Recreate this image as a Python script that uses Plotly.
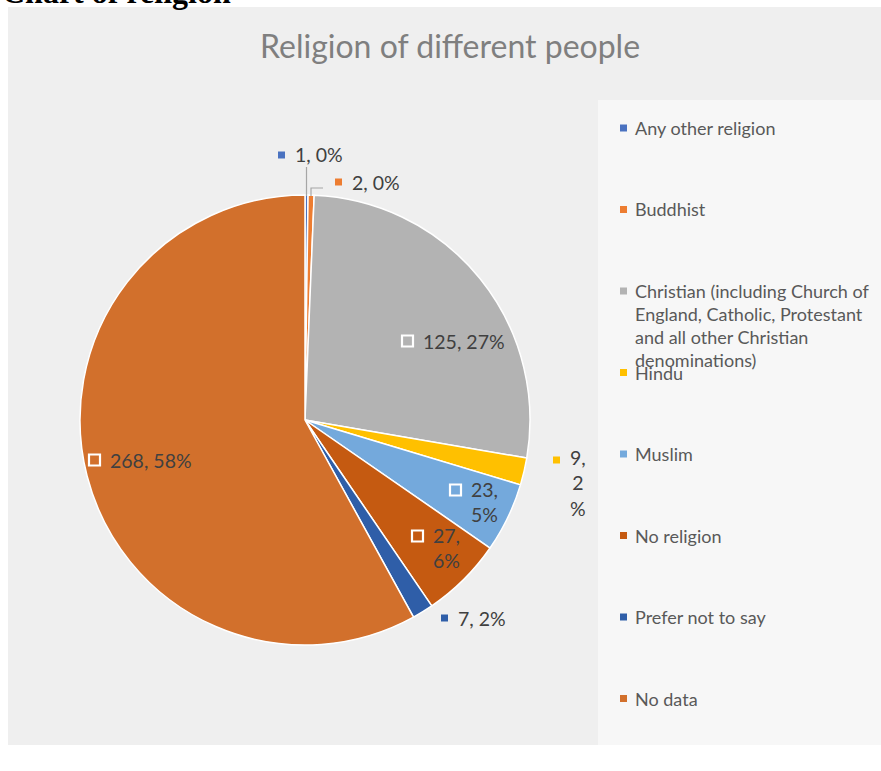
import plotly.graph_objects as go

# ---------------- data ----------------
categories = [
    "Any other religion",
    "Buddhist",
    "Christian (including Church of England, Catholic, Protestant and all other Christian denominations)",
    "Hindu",
    "Muslim",
    "No religion",
    "Prefer not to say",
    "No data",
]
values = [1, 2, 125, 9, 23, 27, 7, 268]
legend_lines = [
    ["Any other religion"],
    ["Buddhist"],
    ["Christian (including Church of", "England, Catholic, Protestant", "and all other Christian", "denominations)"],
    ["Hindu"],
    ["Muslim"],
    ["No religion"],
    ["Prefer not to say"],
    ["No data"],
]
title_text = "Religion of different people"
page_heading = "Chart of religion"

# ---------------- style ----------------
colors = ["#4a72c0", "#ed7d31", "#b3b3b3", "#ffc000", "#74a9dc", "#c55a11", "#2f5ea8", "#d2702c"]
W, H = 881, 771
FONT = "Lato"


def px(x):
    return x / W


def py(y):
    return 1 - y / H


total = sum(values)
pct = [int(v / total * 100 + 0.5) for v in values]

# label placement (pixel), wrap mode, inside flag
label_pos = [
    (293, 155, "one", False),
    (350, 182, "one", False),
    (421, 341, "one", True),
    (568, 483, "char", False),
    (469, 502, "two", True),
    (431, 548, "two", True),
    (456, 618, "one", False),
    (108, 460, "one", True),
]

cx, cy, r = 305, 420, 225

fig = go.Figure()
fig.add_trace(go.Pie(
    labels=categories,
    values=values,
    sort=False,
    direction="clockwise",
    rotation=0,
    marker=dict(colors=colors, line=dict(color="white", width=1.5)),
    textinfo="none",
    hoverinfo="label+value+percent",
    showlegend=False,
    domain=dict(x=[px(cx - r), px(cx + r)], y=[py(cy + r), py(cy - r)]),
))

shapes = [
    dict(type="rect", xref="paper", yref="paper", x0=px(8), x1=px(881), y0=py(745), y1=py(7),
         fillcolor="#efefef", line=dict(width=0), layer="below"),
    dict(type="rect", xref="paper", yref="paper", x0=px(598), x1=px(881), y0=py(745), y1=py(100),
         fillcolor="#f7f7f7", line=dict(width=0), layer="below"),
    # leader lines for the tiny slices
    dict(type="line", xref="paper", yref="paper", x0=px(306.5), x1=px(306.5), y0=py(196), y1=py(167),
         line=dict(color="#a6a6a6", width=1.2), layer="above"),
    dict(type="path", xref="paper", yref="paper",
         path=f"M {px(311)} {py(196)} L {px(311)} {py(188)} L {px(323)} {py(188)}",
         line=dict(color="#a6a6a6", width=1.2), layer="above"),
]

annotations = [
    dict(text=f"<b>{page_heading}</b>", x=px(0), y=py(12), xref="paper", yref="paper",
         xanchor="left", yanchor="bottom", showarrow=False,
         font=dict(family="Liberation Serif", size=32, color="#000000")),
    dict(text=title_text, x=px(450), y=py(45), xref="paper", yref="paper",
         xanchor="center", yanchor="middle", showarrow=False,
         font=dict(family=FONT, size=32, color="#7f7f7f")),
]

LBL = 19.5
for i, (v, p) in enumerate(zip(values, pct)):
    lx, ly, wrap, inside = label_pos[i]
    if wrap == "one":
        txt = f"{v}, {p}%"
        my = ly
    elif wrap == "two":
        txt = f"{v},<br>{p}%"
        my = ly - 12
    else:
        txt = f"{v},<br>{p}<br>%"
        my = ly - 23
    annotations.append(dict(text=txt, x=px(lx), y=py(ly), xref="paper", yref="paper",
                            xanchor="left", yanchor="middle", align="center", showarrow=False,
                            font=dict(family=FONT, size=LBL, color="#404040")))
    if inside:
        s = 5.5
        shapes.append(dict(type="rect", xref="paper", yref="paper",
                           x0=px(lx - 19), x1=px(lx - 8), y0=py(my + s), y1=py(my - s),
                           fillcolor=colors[i], line=dict(color="white", width=2.2), layer="above"))
    else:
        s = 3.5
        shapes.append(dict(type="rect", xref="paper", yref="paper",
                           x0=px(lx - 15), x1=px(lx - 8), y0=py(my + s), y1=py(my - s),
                           fillcolor=colors[i], line=dict(width=0), layer="above"))

# legend (custom, evenly spaced like the original)
leg_x = 633
leg_y0 = 128
leg_step = 81.5
line_h = 23
for i, lines in enumerate(legend_lines):
    y = leg_y0 + i * leg_step
    shapes.append(dict(type="rect", xref="paper", yref="paper",
                       x0=px(620), x1=px(627), y0=py(y + 3.5), y1=py(y - 3.5),
                       fillcolor=colors[i], line=dict(width=0), layer="above"))
    for j, ln in enumerate(lines):
        annotations.append(dict(text=ln, x=px(leg_x), y=py(y + j * line_h), xref="paper", yref="paper",
                                xanchor="left", yanchor="middle", showarrow=False,
                                font=dict(family=FONT, size=18, color="#595959")))

fig.update_layout(
    width=W, height=H,
    margin=dict(l=0, r=0, t=0, b=0),
    paper_bgcolor="white",
    plot_bgcolor="white",
    shapes=shapes,
    annotations=annotations,
    showlegend=False,
)

fig.write_html("out.html")
